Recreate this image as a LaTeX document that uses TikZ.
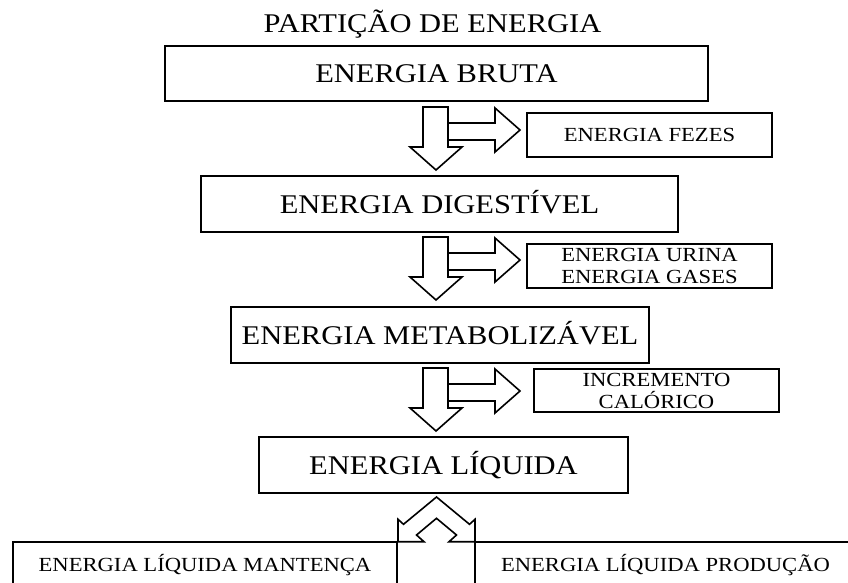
\documentclass[tikz,border=0pt]{standalone}
\usepackage{fontspec}
\setmainfont{Liberation Serif}[FakeStretch=1.13]
\usepackage{tikz}

\newcommand{\bigtxt}{\fontsize{27}{32}\selectfont}
\newcommand{\smalltxt}{\fontsize{20}{22}\selectfont}

\tikzset{
  bigbox/.style={draw, line width=1.9pt, font=\bigtxt, inner sep=0pt, text height=18pt, text depth=0pt},
  smallbox/.style={draw, line width=1.9pt, font=\smalltxt, inner sep=0pt, align=center, text height=13pt, text depth=0pt},
  twolinebox/.style={smallbox, text height=35pt},
  blockarrow/.style={draw, fill=white, line width=1.6pt, line join=miter},
  droparrow/.pic={
    \draw[blockarrow] (12,16) -- (59,16) -- (59,1) -- (84,23) -- (59,45) -- (59,33) -- (12,33);
    \draw[blockarrow] (-13,0) -- (12,0) -- (12,40) -- (26,40) -- (0,63) -- (-26,40) -- (-13,40) -- cycle;
  },
  splitarrow/.pic={
    \draw[blockarrow] (0,0) -- (33,27.3) -- (38.5,22.3) -- (38.5,44.7) -- (12.5,44.7) -- (20,38) -- (0,21.3)
      -- (-20,38) -- (-12.5,44.7) -- (-38.5,44.7) -- (-38.5,22.3) -- (-33,27.3) -- cycle;
  },
}

\begin{document}
\begin{tikzpicture}[x=1pt, y=-1pt]
    \useasboundingbox (0,0) rectangle (848,583);
    \clip (0,0) rectangle (848,583);

    \node[font=\bigtxt, inner sep=0pt, text height=18pt, text depth=0pt] (title) at (432.5,23.5) {PARTIÇÃO DE ENERGIA};

    % main column
    \node[bigbox, minimum width=543pt, minimum height=55pt] (bruta) at (436.5,73.5) {ENERGIA BRUTA};
    \node[bigbox, minimum width=477pt, minimum height=56pt] (digest) at (439.5,204) {ENERGIA DIGESTÍVEL};
    \node[bigbox, minimum width=418pt, minimum height=56pt] (metab) at (440,335) {ENERGIA METABOLIZÁVEL};
    \node[bigbox, minimum width=369pt, minimum height=56pt] (liquida) at (443.5,465) {ENERGIA LÍQUIDA};

    % losses
    \node[smallbox, minimum width=245pt, minimum height=44pt] (fezes) at (649.5,135) {ENERGIA FEZES};
    \node[twolinebox, minimum width=245pt, minimum height=44pt] (urina) at (649.5,266) {ENERGIA URINA\\ENERGIA GASES};
    \node[twolinebox, minimum width=245pt, minimum height=43pt] (calor) at (656.5,390.5) {INCREMENTO\\CALÓRICO};

    % net energy split
    \node[smallbox, minimum width=384pt, minimum height=46pt] (manten) at (205,565) {ENERGIA LÍQUIDA MANTENÇA};
    \node[smallbox, minimum width=381pt, minimum height=46pt] (produc) at (665.5,565) {ENERGIA LÍQUIDA PRODUÇÃO};

    \pic at (436,107) {droparrow};
    \pic at (436,237) {droparrow};
    \pic at (436,368) {droparrow};
    \pic at (436.5,497) {splitarrow};
\end{tikzpicture}
\end{document}
